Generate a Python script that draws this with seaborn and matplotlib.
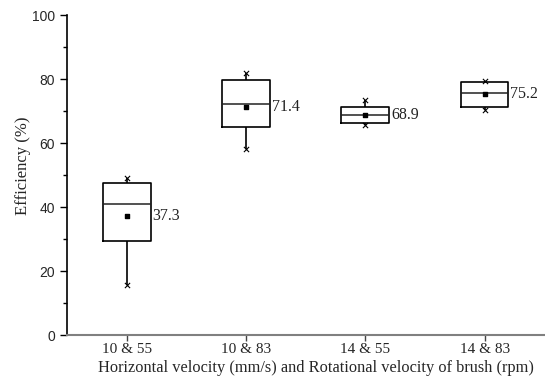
import numpy as np
import pandas as pd
import matplotlib
matplotlib.use("Agg")
import matplotlib.pyplot as plt
from matplotlib.ticker import MultipleLocator
import seaborn as sns

categories = ["10 & 55", "10 & 83", "14 & 55", "14 & 83"]
mins    = [15.6, 58.0, 65.6, 70.3]
q1s     = [29.4, 65.1, 66.1, 71.3]
medians = [41.0, 72.2, 68.6, 75.6]
q3s     = [47.5, 79.7, 71.1, 79.2]
maxs    = [49.0, 82.0, 73.4, 79.5]
means   = [37.3, 71.4, 68.9, 75.2]

rows = []
for c, a, b, m, d, e in zip(categories, mins, q1s, medians, q3s, maxs):
    for v in (a, b, m, d, e):
        rows.append({"group": c, "eff": v})
df = pd.DataFrame(rows)

sns.set_style("ticks")
fig = plt.figure(figsize=(5.45, 3.81), dpi=100)
ax = fig.add_axes([0.123, 0.1207, 0.88, 0.8399])

sns.boxplot(data=df, x="group", y="eff", order=categories, whis=(0, 100),
            width=0.4, fill=False, color="black", linewidth=1.2,
            medianprops=dict(color="#222222", linewidth=1.1),
            showcaps=False, ax=ax)

xs = np.arange(len(categories))
ax.scatter(xs, means, marker="s", s=12, color="black", zorder=5)
ax.scatter(xs, mins, marker="x", s=14, color="black", linewidths=0.8, zorder=5)
ax.scatter(xs, maxs, marker="x", s=14, color="black", linewidths=0.8, zorder=5)

for x, m in zip(xs, means):
    ax.text(x + 0.215, m, f"{m:.1f}", va="center", ha="left",
            family="Liberation Serif", fontsize=11.5, color="#222222")

ax.set_xlim(-0.5, 3.52)
ax.set_ylim(0, 100)
ax.yaxis.set_major_locator(MultipleLocator(20))
ax.yaxis.set_minor_locator(MultipleLocator(10))
ax.tick_params(axis="y", which="major", length=5, width=1, labelsize=10, color="black")
ax.tick_params(axis="y", which="minor", length=3, width=1, color="black")
ax.tick_params(axis="x", length=4, width=1, color="#444444", pad=2)
for lab in ax.get_yticklabels():
    lab.set_family("Liberation Sans")
for lab in ax.get_xticklabels():
    lab.set_family("Liberation Serif")
    lab.set_fontsize(11)

ax.set_xlabel("Horizontal velocity (mm/s) and Rotational velocity of brush (rpm)",
              family="Liberation Serif", fontsize=11.8)
ax.set_ylabel("Efficiency (%)", family="Liberation Serif", fontsize=12)
ax.xaxis.set_label_coords(0.52, -0.078)
ax.yaxis.set_label_coords(-0.075, 0.53)

ax.spines["right"].set_visible(False)
ax.spines["top"].set_visible(False)
ax.spines["left"].set_color("black")
ax.spines["left"].set_linewidth(1.2)
ax.spines["bottom"].set_color("#808080")
ax.spines["bottom"].set_linewidth(1.5)

fig.savefig("out.png", dpi=100)
